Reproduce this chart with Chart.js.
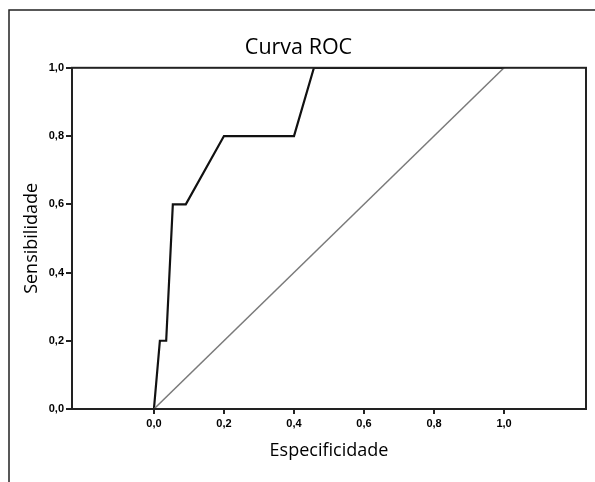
<!DOCTYPE html>
<html>
<head>
<meta charset="utf-8">
<script src="https://cdn.jsdelivr.net/npm/chart.js@4/dist/chart.umd.min.js"></script>
<style>
  html, body { margin: 0; padding: 0; background: #ffffff; }
  #wrap { width: 595px; height: 482px; }
</style>
</head>
<body>
<div id="wrap"><canvas id="c" width="595" height="482"></canvas></div>
<script>
// ---- data ----
const chartTitle = "Curva ROC";
const xAxisTitle = "Especificidade";
const yAxisTitle = "Sensibilidade";
const rocX = [0, 0.017, 0.035, 0.054, 0.091, 0.200, 0.400, 0.457, 1.0];
const rocY = [0, 0.2, 0.2, 0.6, 0.6, 0.8, 0.8, 1.0, 1.0];
const refX = [0, 1];
const refY = [0, 1];
const xTickValues = [0, 0.2, 0.4, 0.6, 0.8, 1.0];
const yTickValues = [0, 0.2, 0.4, 0.6, 0.8, 1.0];

const toPoints = (xs, ys) => xs.map((x, i) => ({ x: x, y: ys[i] }));
const fmt = v => v.toFixed(1).replace('.', ',');

const framePlugin = {
  id: 'frame',
  beforeDraw(chart) {
    const ctx = chart.ctx;
    ctx.save();
    ctx.fillStyle = '#ffffff';
    ctx.fillRect(0, 0, chart.width, chart.height);
    ctx.strokeStyle = '#222222';
    ctx.lineWidth = 1.5;
    ctx.beginPath();
    ctx.moveTo(9, chart.height);
    ctx.lineTo(9, 10);
    ctx.lineTo(chart.width, 10);
    ctx.stroke();
    ctx.restore();
  },
  afterDraw(chart) {
    const a = chart.chartArea;
    const ctx = chart.ctx;
    ctx.save();
    ctx.strokeStyle = '#222222';
    ctx.lineWidth = 2;
    ctx.strokeRect(a.left, a.top, a.right - a.left, a.bottom - a.top);
    ctx.restore();
  }
};

const tickFont = { family: 'Liberation Sans', size: 11, weight: 'bold' };
const titleFont = { family: 'Open Sans', size: 18, weight: '500' };

new Chart(document.getElementById('c'), {
  type: 'line',
  data: {
    datasets: [
      {
        data: toPoints(refX, refY),
        borderColor: '#7a7a7a',
        borderWidth: 1.5,
        pointRadius: 0,
        tension: 0,
        fill: false
      },
      {
        data: toPoints(rocX, rocY),
        borderColor: '#111111',
        borderWidth: 2.2,
        pointRadius: 0,
        tension: 0,
        fill: false
      }
    ]
  },
  options: {
    responsive: false,
    animation: false,
    devicePixelRatio: 1,
    layout: { padding: { left: 11, right: 9, top: 0, bottom: 0 } },
    plugins: {
      legend: { display: false },
      tooltip: { enabled: false },
      title: {
        display: true,
        text: chartTitle,
        color: '#000000',
        font: { family: 'Open Sans', size: 21.5, weight: '500' },
        padding: { top: 35, bottom: 7 }
      }
    },
    scales: {
      x: {
        type: 'linear',
        min: -0.234,
        max: 1.234,
        afterBuildTicks: s => { s.ticks = xTickValues.map(v => ({ value: v })); },
        afterFit: s => { s.height = 73; },
        ticks: {
          color: '#000000',
          font: tickFont,
          padding: 3,
          maxRotation: 0,
          autoSkip: false,
          callback: v => fmt(v)
        },
        grid: {
          display: true,
          drawOnChartArea: false,
          drawTicks: true,
          tickLength: 5,
          color: '#222222',
          lineWidth: 2
        },
        border: { display: true, color: '#222222', width: 2 },
        title: {
          display: true,
          text: xAxisTitle,
          color: '#000000',
          font: titleFont,
          padding: { top: 0, bottom: 20 }
        }
      },
      y: {
        type: 'linear',
        min: 0,
        max: 1,
        afterBuildTicks: s => { s.ticks = yTickValues.map(v => ({ value: v })); },
        afterFit: s => { s.width = 61; },
        ticks: {
          color: '#000000',
          font: tickFont,
          padding: 2,
          autoSkip: false,
          callback: v => fmt(v)
        },
        grid: {
          display: true,
          drawOnChartArea: false,
          drawTicks: true,
          tickLength: 6,
          color: '#222222',
          lineWidth: 2
        },
        border: { display: true, color: '#222222', width: 2 },
        title: {
          display: true,
          text: yAxisTitle,
          color: '#000000',
          font: titleFont,
          padding: { top: 10, bottom: 0 }
        }
      }
    }
  },
  plugins: [framePlugin]
});
</script>
</body>
</html>
